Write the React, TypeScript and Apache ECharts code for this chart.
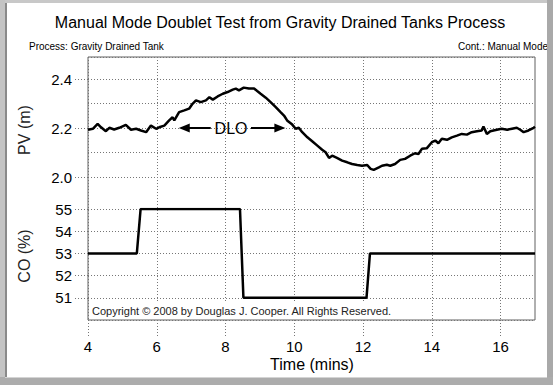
import React, { useEffect, useRef } from "react";
import * as echarts from "echarts";

const TITLE = "Manual Mode Doublet Test from Gravity Drained Tanks Process";
const SUB_LEFT = "Process: Gravity Drained Tank";
const SUB_RIGHT = "Cont.: Manual Mode";
const COPYRIGHT = "Copyright \u00A9 2008 by Douglas J. Cooper. All Rights Reserved.";

const PV_TIME = [
  4.0, 4.14, 4.28, 4.38, 4.52, 4.62, 4.76, 4.91, 5.1, 5.25, 5.4, 5.54, 5.69, 5.83, 5.98, 6.07,
  6.22, 6.36, 6.46, 6.51, 6.65, 6.8, 6.94, 7.04, 7.14, 7.28, 7.43, 7.53, 7.63, 7.77, 7.92, 8.06,
  8.21, 8.3, 8.39, 8.53, 8.68, 8.83, 8.92, 9.02, 9.17, 9.31, 9.46, 9.6, 9.7, 9.79, 9.94, 10.04,
  10.13, 10.23, 10.38, 10.52, 10.67, 10.81, 10.91, 11.01, 11.1, 11.24, 11.39, 11.54, 11.68, 11.83,
  11.97, 12.12, 12.22, 12.31, 12.46, 12.55, 12.69, 12.79, 12.93, 13.08, 13.22, 13.37, 13.51, 13.61,
  13.71, 13.85, 14.0, 14.1, 14.19, 14.29, 14.44, 14.58, 14.73, 14.87, 15.02, 15.16, 15.31, 15.45,
  15.5, 15.6, 15.7, 15.89, 16.03, 16.19, 16.33, 16.47, 16.57, 16.67, 16.81, 16.96, 17.0,
];
const PV_VALUES = [
  2.193, 2.197, 2.217, 2.203, 2.187, 2.201, 2.194, 2.201, 2.213, 2.193, 2.197, 2.19, 2.183, 2.21,
  2.197, 2.203, 2.21, 2.231, 2.244, 2.231, 2.265, 2.272, 2.279, 2.299, 2.313, 2.306, 2.313, 2.326,
  2.316, 2.329, 2.34, 2.347, 2.357, 2.361, 2.354, 2.365, 2.361, 2.361, 2.351, 2.34, 2.324, 2.306,
  2.285, 2.265, 2.251, 2.231, 2.214, 2.197, 2.201, 2.183, 2.162, 2.146, 2.128, 2.111, 2.101, 2.078,
  2.087, 2.078, 2.067, 2.06, 2.053, 2.049, 2.046, 2.049, 2.033, 2.029, 2.039, 2.046, 2.05, 2.046,
  2.053, 2.07, 2.074, 2.087, 2.097, 2.094, 2.115, 2.117, 2.142, 2.149, 2.138, 2.156, 2.152, 2.162,
  2.169, 2.176, 2.173, 2.183, 2.187, 2.19, 2.206, 2.176, 2.187, 2.193, 2.197, 2.193, 2.197, 2.201,
  2.193, 2.183, 2.19, 2.201, 2.205,
];
const CO_TIME = [4, 5.42, 5.53, 8.42, 8.52, 12.1, 12.2, 17];
const CO_VALUES = [53, 53, 55, 55, 51, 51, 53, 53];

const X_TICKS = [4, 6, 8, 10, 12, 14, 16];
const PV_TICKS = [2.0, 2.2, 2.4];
const CO_TICKS = [51, 52, 53, 54, 55];

const DLO_LEVEL = 2.2;
const DLO_LEFT = [6.8, 7.57];
const DLO_RIGHT = [8.74, 9.58];
const DLO_MID = 8.16;

const FONT = "'Liberation Sans', Arial, Helvetica, sans-serif";
const DOT = { color: "#767676", width: 1, type: [1, 2] as number[] };

export default function App() {
  const ref = useRef<HTMLDivElement>(null);

  useEffect(() => {
    const chart = echarts.init(ref.current!, null, { renderer: "svg" });
    const pvData = PV_TIME.map((t, i) => [t, PV_VALUES[i]]);
    const coData = CO_TIME.map((t, i) => [t, CO_VALUES[i]]);

    const option: any = {
      animation: false,
      backgroundColor: "#ffffff",
      textStyle: { fontFamily: FONT },
      grid: [
        { left: 88, top: 57, width: 447, height: 263, show: true, borderColor: "#606060", borderWidth: 1, backgroundColor: "transparent" },
        { left: 88, top: 57, width: 447, height: 120 },
        { left: 88, top: 209, width: 447, height: 111 },
      ],
      xAxis: [
        {
          gridIndex: 0, type: "value", min: 4, max: 17, interval: 2,
          axisLine: { show: false },
          axisTick: { show: true, inside: false, length: 16, lineStyle: DOT, customValues: X_TICKS },
          axisLabel: { customValues: X_TICKS, color: "#000", fontSize: 15, margin: 19, fontFamily: FONT },
          splitLine: { show: true, lineStyle: DOT },
        },
        { gridIndex: 1, type: "value", min: 4, max: 17, show: false },
        { gridIndex: 2, type: "value", min: 4, max: 17, show: false },
      ],
      yAxis: [
        { gridIndex: 0, type: "value", min: 0, max: 1, show: false },
        {
          gridIndex: 1, type: "value", min: 2.0, max: 2.49, interval: 0.1, position: "left",
          axisLine: { show: false }, axisTick: { show: false }, axisLabel: { show: false },
          splitLine: { show: true, lineStyle: DOT },
        },
        {
          gridIndex: 1, type: "value", min: 2.0, max: 2.49, position: "left", offset: 0,
          axisLine: { show: false },
          axisTick: { show: true, length: 15, lineStyle: DOT, customValues: PV_TICKS },
          axisLabel: { customValues: PV_TICKS, formatter: (v: number) => v.toFixed(1), color: "#000", fontSize: 15, margin: 16, fontFamily: FONT },
          splitLine: { show: false },
        },
        {
          gridIndex: 2, type: "value", min: 50, max: 55, interval: 1, position: "left",
          axisLine: { show: false }, axisTick: { show: false }, axisLabel: { show: false },
          splitLine: { show: true, lineStyle: DOT },
        },
        {
          gridIndex: 2, type: "value", min: 50, max: 55, position: "left", offset: 0,
          axisLine: { show: false },
          axisTick: { show: true, length: 15, lineStyle: DOT, customValues: CO_TICKS },
          axisLabel: { customValues: CO_TICKS, color: "#000", fontSize: 15, margin: 16, fontFamily: FONT },
          splitLine: { show: false },
        },
      ],
      series: [
        {
          name: "PV", type: "line", xAxisIndex: 1, yAxisIndex: 1, data: pvData,
          showSymbol: false, symbol: "none", lineStyle: { color: "#000", width: 2.5 }, z: 3,
          markLine: {
            silent: true, symbolSize: [9, 11], animation: false,
            lineStyle: { color: "#000", width: 2, type: "solid" },
            label: { show: false },
            data: [
              [
                { coord: [DLO_LEFT[0], DLO_LEVEL], symbol: "triangle" },
                { coord: [DLO_LEFT[1], DLO_LEVEL], symbol: "none" },
              ],
              [
                { coord: [DLO_RIGHT[0], DLO_LEVEL], symbol: "none" },
                { coord: [DLO_RIGHT[1], DLO_LEVEL], symbol: "triangle" },
              ],
            ],
          },
          markPoint: {
            silent: true, animation: false,
            data: [
              {
                coord: [DLO_MID, DLO_LEVEL], symbol: "rect", symbolSize: [1, 1],
                itemStyle: { color: "rgba(0,0,0,0)" },
                label: { show: true, position: "inside", formatter: "DLO", color: "#000", fontSize: 16, fontFamily: FONT },
              },
            ],
          },
        },
        {
          name: "CO", type: "line", xAxisIndex: 2, yAxisIndex: 3, data: coData,
          showSymbol: false, symbol: "none", lineStyle: { color: "#000", width: 2.5 }, z: 3,
        },
      ],
      graphic: [
        { type: "rect", z: 5, shape: { x: 89, y: 302, width: 314, height: 17 }, style: { fill: "#ffffff" }, silent: true },
        { type: "text", z: 6, x: 92, y: 311, silent: true, style: { text: COPYRIGHT, fill: "#222", font: `11px ${FONT}`, textVerticalAlign: "middle" } },
        { type: "text", z: 6, x: 280, y: 22, silent: true, style: { text: TITLE, fill: "#000", font: `16px ${FONT}`, textAlign: "center", textVerticalAlign: "middle" } },
        { type: "text", z: 6, x: 29, y: 46, silent: true, style: { text: SUB_LEFT, fill: "#000", font: `10px ${FONT}`, textVerticalAlign: "middle" } },
        { type: "text", z: 6, x: 458, y: 46, silent: true, style: { text: SUB_RIGHT, fill: "#000", font: `10px ${FONT}`, textVerticalAlign: "middle" } },
        { type: "text", z: 6, x: 24, y: 130, rotation: Math.PI / 2, silent: true, style: { text: "PV (m)", fill: "#222", font: `16px ${FONT}`, textAlign: "center", textVerticalAlign: "middle" } },
        { type: "text", z: 6, x: 24, y: 256, rotation: Math.PI / 2, silent: true, style: { text: "CO (%)", fill: "#222", font: `16px ${FONT}`, textAlign: "center", textVerticalAlign: "middle" } },
        { type: "text", z: 6, x: 312, y: 364, silent: true, style: { text: "Time (mins)", fill: "#000", font: `16px ${FONT}`, textAlign: "center", textVerticalAlign: "middle" } },
        { type: "rect", z: 20, silent: true, shape: { x: 0, y: 0, width: 553, height: 3 }, style: { fill: "#c8c8c8" } },
        { type: "rect", z: 20, silent: true, shape: { x: 0, y: 0, width: 5, height: 385 }, style: { fill: "#c4c4c4" } },
        { type: "rect", z: 21, silent: true, shape: { x: 5, y: 3, width: 2, height: 375 }, style: { fill: "#8a8a8a" } },
        { type: "rect", z: 20, silent: true, shape: { x: 547, y: 0, width: 6, height: 385 }, style: { fill: "#a9a9a9" } },
        { type: "rect", z: 20, silent: true, shape: { x: 0, y: 377, width: 553, height: 8 }, style: { fill: "#acacac" } },
        { type: "rect", z: 21, silent: true, shape: { x: 5, y: 377, width: 542, height: 1 }, style: { fill: "#d4d4d4" } },
      ],
    };
    chart.setOption(option);
    return () => chart.dispose();
  }, []);

  return <div ref={ref} style={{ position: "fixed", left: 0, top: 0, width: 553, height: 385 }} />;
}
